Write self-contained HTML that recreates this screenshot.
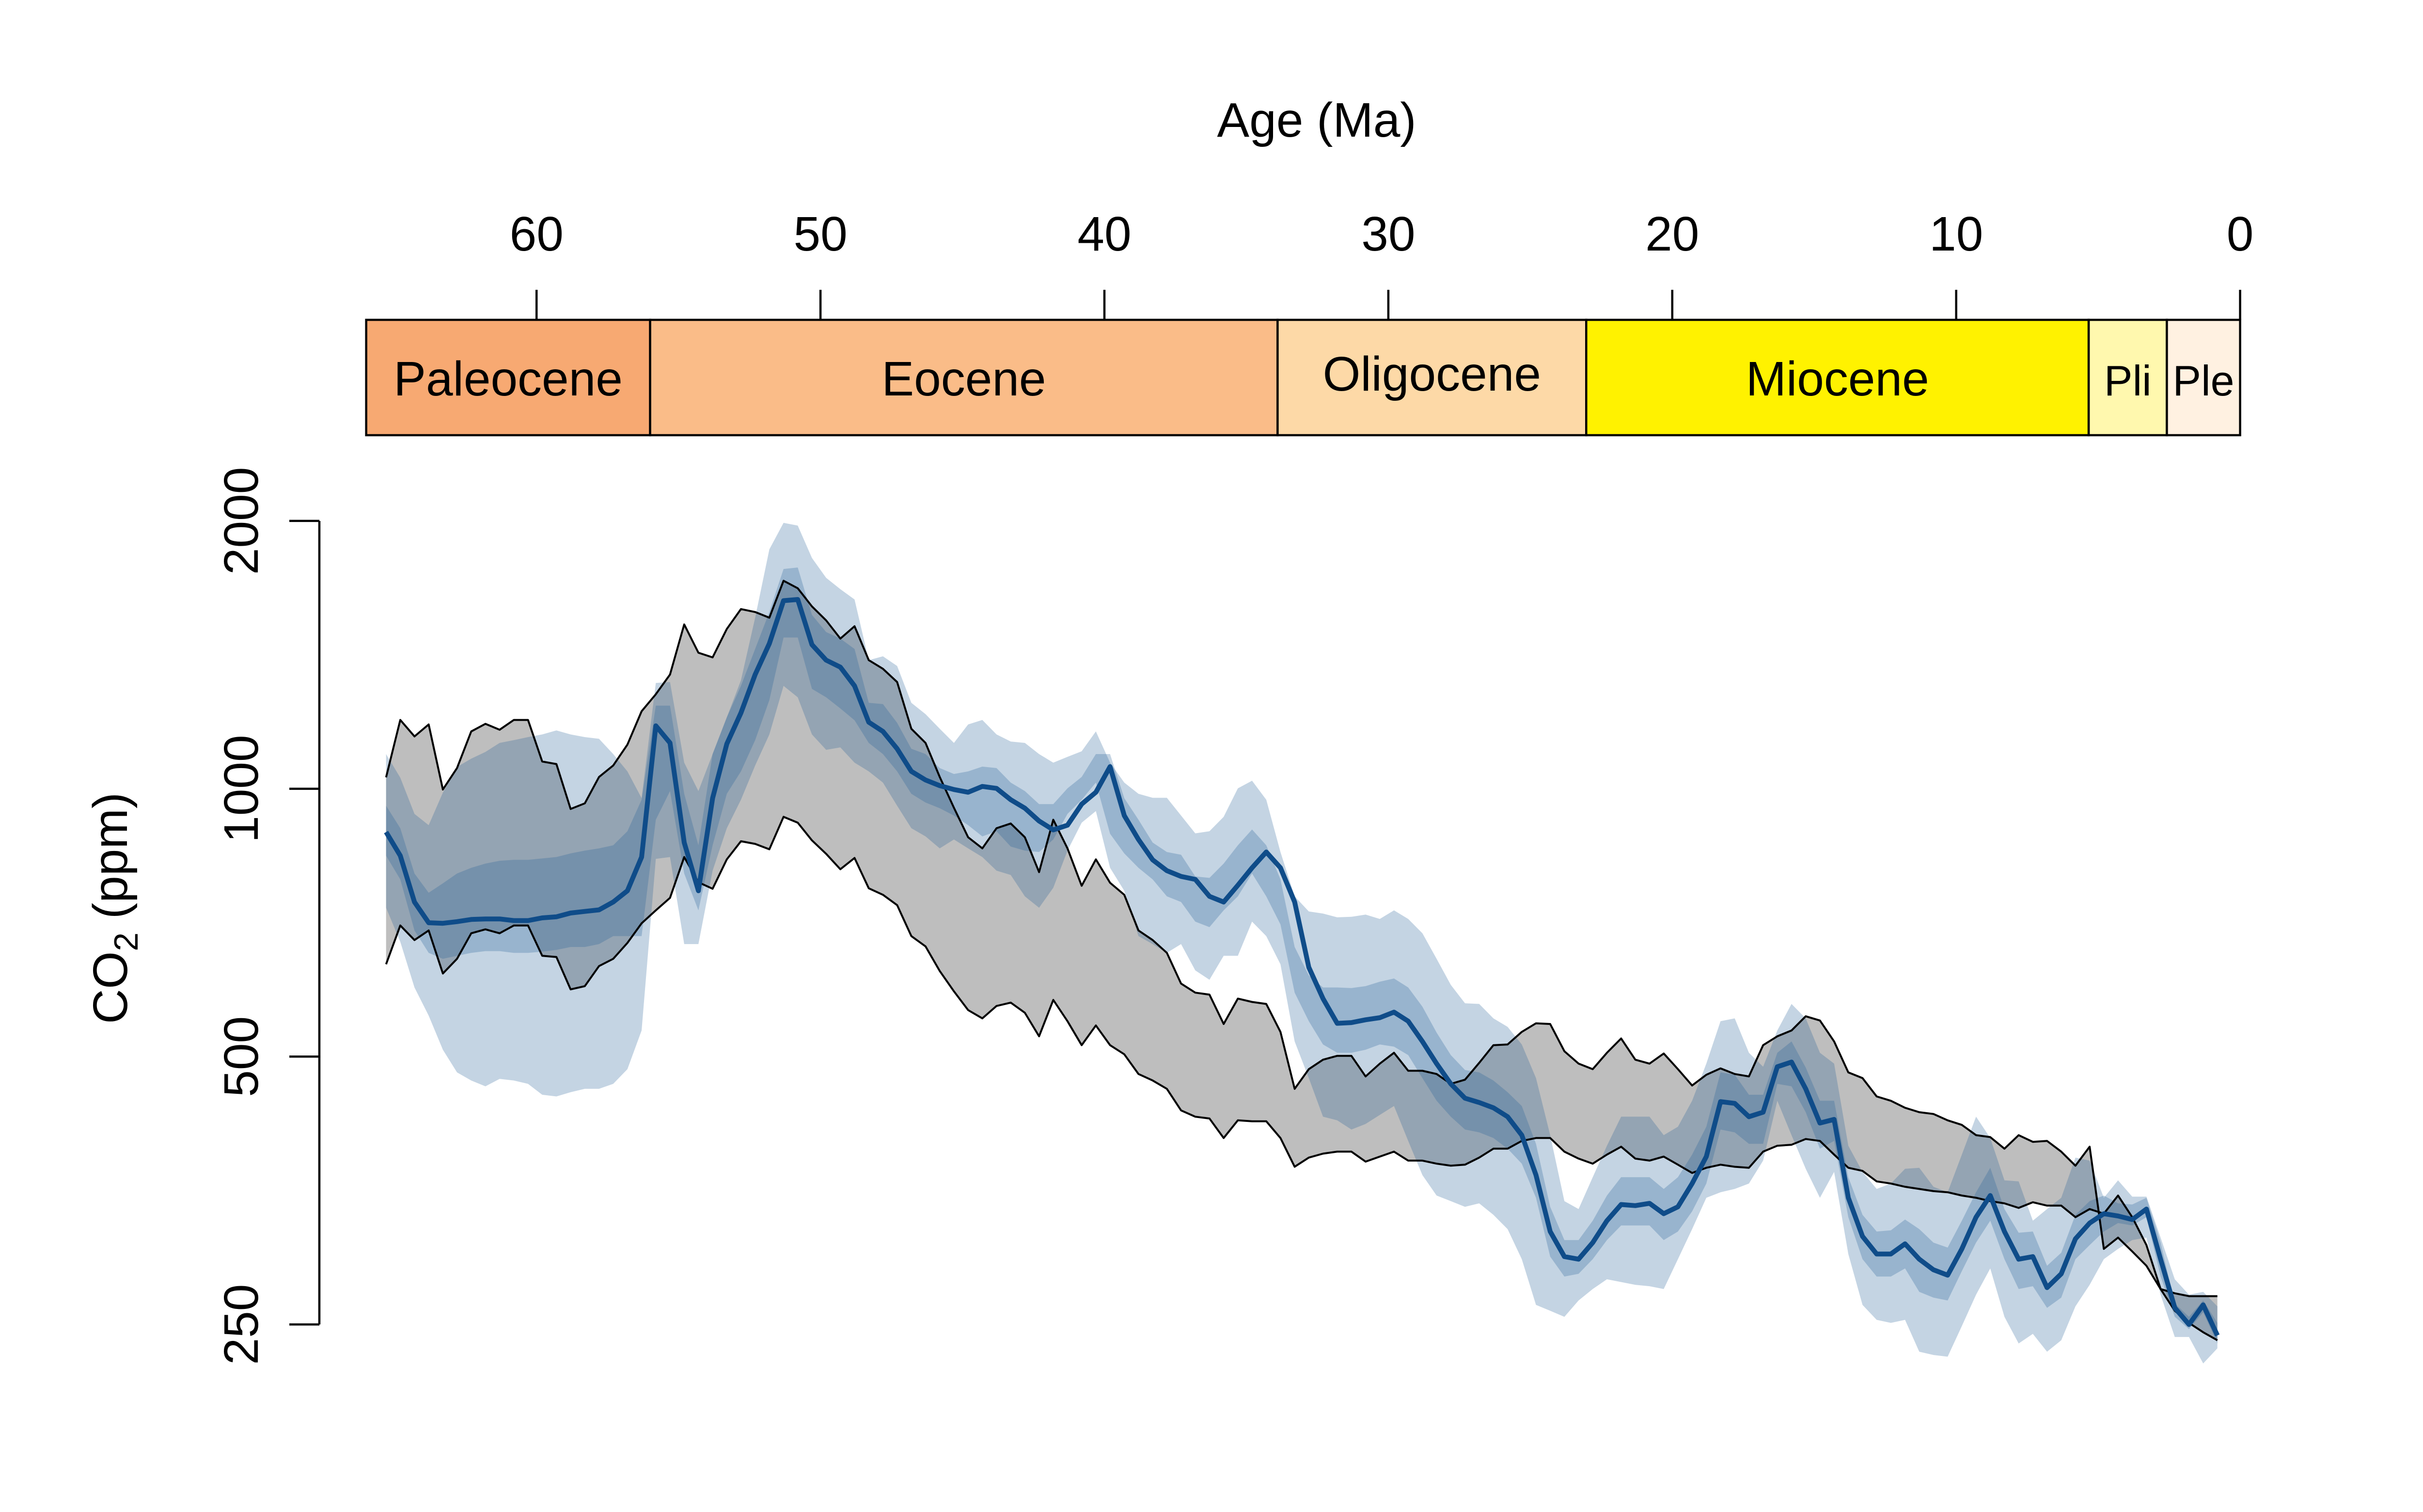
<!DOCTYPE html>
<html><head><meta charset="utf-8"><style>
html,body{margin:0;padding:0;background:#fff;width:5400px;height:3120px;overflow:hidden;}
svg{display:block;font-family:"Liberation Sans",sans-serif;overflow:hidden;}
</style></head><body>
<svg id="chart" xmlns="http://www.w3.org/2000/svg" width="5400" height="3120" viewBox="0 0 5400 3120">
<rect x="0" y="0" width="5400" height="3120" fill="#fff"/>
<g id="timescale"></g>
<g id="topaxis"></g>
<g id="yaxis"></g>
<g id="plot"></g>
<text x="2717" y="282" font-size="100" text-anchor="middle">Age (Ma)</text>
<text transform="translate(262,1874) rotate(-90)" font-size="100" text-anchor="middle">CO<tspan font-size="70" dy="22">2</tspan><tspan dy="-22"> (ppm)</tspan></text>
</svg>
<script>
const ages = [65.3,64.8,64.3,63.8,63.3,62.8,62.3,61.8,61.3,60.8,60.3,59.8,59.3,58.8,58.3,57.8,57.3,56.8,56.3,55.8,55.3,54.8,54.3,53.8,53.3,52.8,52.3,51.8,51.3,50.8,50.3,49.8,49.3,48.8,48.3,47.8,47.3,46.8,46.3,45.8,45.3,44.8,44.3,43.8,43.3,42.8,42.3,41.8,41.3,40.8,40.3,39.8,39.3,38.8,38.3,37.8,37.3,36.8,36.3,35.8,35.3,34.8,34.3,33.8,33.3,32.8,32.3,31.8,31.3,30.8,30.3,29.8,29.3,28.8,28.3,27.8,27.3,26.8,26.3,25.8,25.3,24.8,24.3,23.8,23.3,22.8,22.3,21.8,21.3,20.8,20.3,19.8,19.3,18.8,18.3,17.8,17.3,16.8,16.3,15.8,15.3,14.8,14.3,13.8,13.3,12.8,12.3,11.8,11.3,10.8,10.3,9.8,9.3,8.8,8.3,7.8,7.3,6.8,6.3,5.8,5.3,4.8,4.3,3.8,3.3,2.8,2.3,1.8,1.3,0.8];
const greyA = [1030,1195,1145,1181,998,1055,1160,1183,1165,1195,1195,1073,1066,949,963,1031,1062,1121,1222,1277,1344,1530,1422,1405,1512,1592,1580,1557,1713,1680,1603,1546,1475,1523,1395,1364,1318,1168,1126,1031,952,882,857,903,914,882,806,923,857,778,833,784,760,693,676,654,604,590,587,544,581,576,573,533,460,484,496,501,501,475,491,505,482,482,478,466,471,492,515,516,533,545,544,507,491,484,505,524,496,491,504,484,464,477,485,478,475,515,527,535,555,549,520,480,473,451,446,438,433,431,424,419,408,406,394,408,401,402,391,377,396,304,313,302,291,274,271,269,269,269];
const greyB = [635,702,676,693,620,644,688,695,688,702,702,649,647,595,600,632,644,671,706,730,754,838,785,772,833,873,867,855,930,916,875,845,812,836,773,760,740,683,665,624,592,564,552,570,575,560,527,579,548,515,542,515,503,478,470,460,435,428,426,405,424,423,423,405,376,385,389,391,391,381,386,391,382,382,379,377,378,385,394,394,402,405,405,391,384,379,388,396,384,382,386,378,370,375,378,376,375,391,397,398,404,402,388,375,372,362,360,357,355,353,352,349,347,344,342,338,343,340,340,330,337,333,349,330,307,274,259,251,245,240];
const median = [894,841,746,707,706,709,713,714,714,711,711,716,718,725,728,731,746,768,838,1177,1126,870,768,976,1123,1217,1344,1456,1627,1632,1452,1395,1370,1305,1188,1160,1109,1046,1023,1008,998,991,1006,1001,972,951,920,899,910,961,991,1059,933,877,832,809,797,791,757,746,779,815,849,815,746,630,581,545,546,550,553,561,548,520,491,466,449,444,438,428,408,368,318,298,296,309,327,341,340,342,333,339,360,386,445,443,428,433,487,493,460,421,425,347,314,300,300,308,296,288,284,304,330,349,318,296,298,275,285,312,325,333,331,328,337,296,261,250,263,243];
const innerHi = [957,903,803,764,783,803,815,824,830,832,832,835,838,846,852,857,864,896,972,1240,1240,987,864,1094,1203,1305,1436,1580,1766,1773,1568,1500,1475,1436,1249,1245,1186,1109,1094,1055,1039,1046,1059,1055,1016,994,961,961,1001,1031,1094,1094,976,923,870,849,843,797,794,824,864,900,864,791,664,617,598,598,597,600,607,612,598,569,532,502,483,480,470,456,440,399,339,311,311,327,349,366,366,366,355,366,388,417,480,477,453,453,505,520,486,446,446,366,332,318,319,328,320,309,305,327,352,375,337,317,318,291,301,332,344,349,342,341,347,309,264,255,266,251];
const innerLo = [841,791,693,654,644,649,654,657,657,654,654,656,659,664,664,669,683,683,683,923,994,803,730,864,987,1046,1134,1258,1479,1479,1295,1267,1231,1194,1126,1094,1046,987,965,951,933,910,884,896,861,852,849,877,937,972,1016,890,846,815,791,757,746,709,699,730,757,803,757,704,590,548,516,505,505,509,516,513,502,473,446,428,414,411,405,394,379,347,298,283,285,296,311,323,323,323,311,318,335,360,414,411,399,399,466,463,433,394,402,330,296,283,283,289,272,268,266,287,309,327,296,274,276,261,268,296,307,318,325,323,330,283,255,247,258,238];
const outerHi = [1094,1029,937,910,990,1058,1081,1100,1126,1134,1143,1151,1163,1151,1143,1138,1094,1046,976,1315,1318,1070,994,1094,1203,1324,1557,1858,1990,1976,1817,1726,1676,1632,1395,1409,1374,1249,1213,1168,1126,1181,1195,1151,1130,1126,1094,1070,1086,1102,1160,1070,1016,987,977,977,933,891,896,930,1001,1021,972,849,757,728,724,717,718,722,714,730,714,688,644,602,574,573,552,540,516,473,408,344,337,366,397,428,428,428,408,417,446,491,548,552,505,487,535,573,552,505,491,397,371,355,360,374,375,357,352,388,428,405,363,362,327,337,347,385,382,347,363,348,348,313,281,270,272,262];
const outerLo = [735,673,598,556,509,480,470,463,472,470,466,453,451,456,460,460,466,484,535,834,838,669,669,809,903,972,1062,1151,1305,1267,1151,1106,1113,1070,1046,1016,957,903,884,857,877,857,838,809,800,757,735,774,852,916,944,815,768,683,669,654,669,625,610,649,649,709,683,635,520,473,428,424,414,420,430,440,402,368,349,344,339,342,332,320,296,263,259,255,266,274,281,279,277,276,274,296,320,347,352,355,360,382,446,408,374,347,371,300,263,253,251,253,233,231,230,249,270,289,255,238,244,233,240,262,277,296,304,311,313,270,242,242,226,235];
const ageTicks = [60,50,40,30,20,10,0];
const ppmTicks = [250,500,1000,2000];
const epochNames = ["Paleocene","Eocene","Oligocene","Miocene","Pli","Ple"];
const epochStart = [66,56,33.9,23.03,5.333,2.58];
const epochEnd = [56,33.9,23.03,5.333,2.58,0];
const epochColors = ["#F7A972","#FABC88","#FDD9A7","#FFF200","#FFF8AE","#FFF1E1"];

const NS = "http://www.w3.org/2000/svg";
function xAge(a){ return 4622.6 - 58.59*a; }
function yPpm(v){ return 1627.6 - 552.7*Math.log2(v/1000); }
function mk(tag, parent, attrs){
  const e = document.createElementNS(NS, tag);
  for (const k in attrs) e.setAttribute(k, attrs[k]);
  parent.appendChild(e);
  return e;
}
function band(hi, lo){
  let d = "M";
  for (let i=0;i<ages.length;i++) d += (i?"L":"") + xAge(ages[i]).toFixed(1)+","+yPpm(hi[i]).toFixed(1);
  for (let i=ages.length-1;i>=0;i--) d += "L"+xAge(ages[i]).toFixed(1)+","+yPpm(lo[i]).toFixed(1);
  return d+"Z";
}
function line(arr){
  let d = "M";
  for (let i=0;i<ages.length;i++) d += (i?"L":"") + xAge(ages[i]).toFixed(1)+","+yPpm(arr[i]).toFixed(1);
  return d;
}

const ts = document.getElementById("timescale");
for (let i=0;i<epochNames.length;i++){
  const x0 = xAge(epochStart[i]), x1 = xAge(epochEnd[i]);
  const r = mk("rect", ts, {x:x0, y:660, width:x1-x0, height:238, fill:epochColors[i], stroke:"#000", "stroke-width":4.5});
  
  
  const fs = i>=4 ? 88 : 100;
  const t = mk("text", ts, {x:(x0+x1)/2, y: i===2 ? 806 : 816, "font-size":fs, "text-anchor":"middle"});
  t.textContent = epochNames[i];
  
  
}

const ta = document.getElementById("topaxis");
for (const a of ageTicks){
  const x = xAge(a);
  const tk = mk("line", ta, {x1:x, x2:x, y1:598, y2:660, stroke:"#000", "stroke-width":4.5});
  
  
  const tl = mk("text", ta, {x:x, y:517, "font-size":100, "text-anchor":"middle"});
  tl.textContent = a;
  
  
}

const ya = document.getElementById("yaxis");
const yl = mk("line", ya, {x1:659, x2:659, y1:yPpm(2000), y2:yPpm(250), stroke:"#000", "stroke-width":4.5});


for (const v of ppmTicks){
  const y = yPpm(v);
  const tk = mk("line", ya, {x1:597, x2:659, y1:y, y2:y, stroke:"#000", "stroke-width":4.5});
  
  
  const tl = mk("text", ya, {transform:"translate(532,"+y+") rotate(-90)", "font-size":100, "text-anchor":"middle"});
  tl.textContent = v;
  
  
}

const pl = document.getElementById("plot");
const g1 = mk("path", pl, {d:band(greyA, greyB), fill:"#BEBEBE", stroke:"none"});


const o1 = mk("path", pl, {d:band(outerHi, outerLo), fill:"rgb(29,91,148)", "fill-opacity":0.262, stroke:"none"});


const i1 = mk("path", pl, {d:band(innerHi, innerLo), fill:"rgb(29,91,148)", "fill-opacity":0.262, stroke:"none"});


const la = mk("path", pl, {d:line(greyA), fill:"none", stroke:"#000", "stroke-width":4, "stroke-linejoin":"round"});


const lb = mk("path", pl, {d:line(greyB), fill:"none", stroke:"#000", "stroke-width":4, "stroke-linejoin":"round"});


const lm = mk("path", pl, {d:line(median), fill:"none", stroke:"#0F4C89", "stroke-width":10, "stroke-linejoin":"round"});


</script>
</body></html>
